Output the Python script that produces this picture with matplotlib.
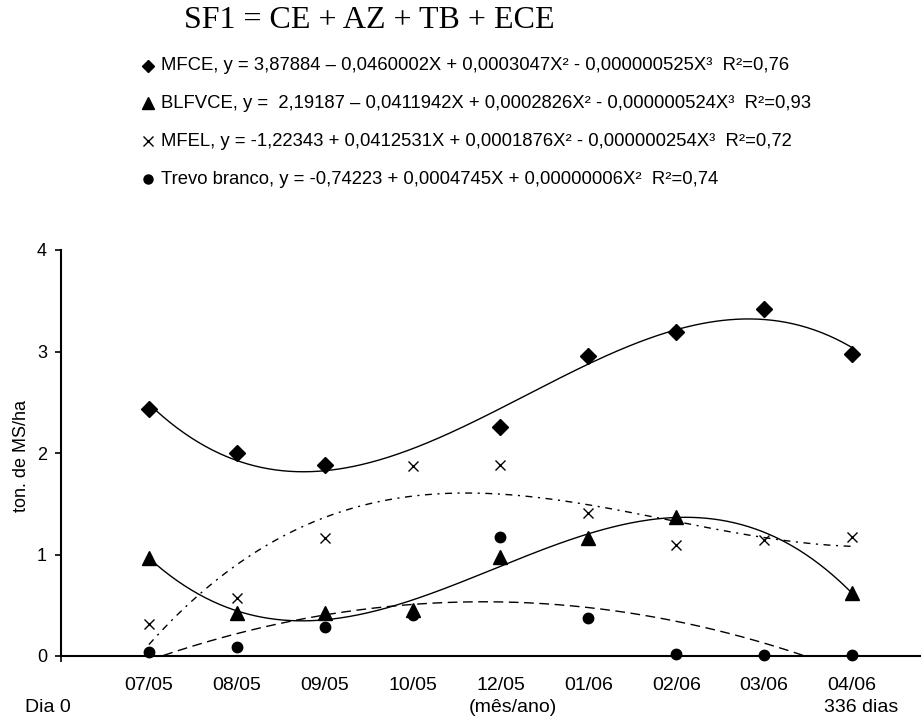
import numpy as np
import matplotlib
matplotlib.use("Agg")
import matplotlib.pyplot as plt
from matplotlib.lines import Line2D

# ---------------- data ----------------
categories = ["07/05", "08/05", "09/05", "10/05", "12/05", "01/06", "02/06", "03/06", "04/06"]
x_pos = np.arange(1, 10)

mfce = [2.43, 2.00, 1.88, None, 2.26, 2.96, 3.19, 3.42, 2.98]
blfvce = [0.97, 0.42, 0.42, 0.45, 0.98, 1.16, 1.37, None, 0.62]
mfel = [0.32, 0.57, 1.16, 1.87, 1.88, 1.41, 1.09, 1.14, 1.17]
trevo = [0.04, 0.09, 0.29, 0.40, 1.17, 0.37, 0.02, 0.01, 0.01]

legend_labels = [
    "MFCE, y = 3,87884 \u2013 0,0460002X + 0,0003047X\u00b2 - 0,000000525X\u00b3  R\u00b2=0,76",
    "BLFVCE, y =  2,19187 \u2013 0,0411942X + 0,0002826X\u00b2 - 0,000000524X\u00b3  R\u00b2=0,93",
    "MFEL, y = -1,22343 + 0,0412531X + 0,0001876X\u00b2 - 0,000000254X\u00b3  R\u00b2=0,72",
    "Trevo branco, y = -0,74223 + 0,0004745X + 0,00000006X\u00b2  R\u00b2=0,74",
]
title = "SF1 = CE + AZ + TB + ECE"

# ---------------- figure ----------------
W, H = 921, 719
fig = plt.figure(figsize=(W / 100, H / 100), dpi=100)
fig.patch.set_facecolor("white")

def fx(px):
    return px / W

def fy(py):
    return 1 - py / H

ax = fig.add_axes([fx(61), fy(656), fx(921) - fx(61), fy(250) - fy(656)])
ax.set_xlim(0, 9.785)
ax.set_ylim(0, 4)

SANS = ["Liberation Sans", "DejaVu Sans"]

series = [
    (mfce, "D", 8.5, 3, "-"),
    (blfvce, "^", 9.5, 3, "-"),
    (mfel, "x", 7, 3, (0, (5, 4, 1.5, 4))),
    (trevo, "o", 7.5, 2, (0, (7, 4))),
]

xs = np.linspace(1, 9, 300)
for vals, mk, ms, deg, ls in series:
    xv = np.array([x for x, v in zip(x_pos, vals) if v is not None], dtype=float)
    yv = np.array([v for v in vals if v is not None], dtype=float)
    ax.plot(xv, yv, linestyle="none", marker=mk, ms=ms, mew=1.0,
            color="black", clip_on=False, zorder=3)
    coef = np.polyfit(xv, yv, deg)
    ax.plot(xs, np.polyval(coef, xs), color="black", lw=1.0, linestyle=ls, zorder=2)

# axes styling
for s in ["top", "right"]:
    ax.spines[s].set_visible(False)
ax.spines["left"].set_linewidth(1.5)
ax.spines["bottom"].set_linewidth(1.5)
ax.set_yticks([0, 1, 2, 3, 4])
ax.set_yticklabels(["0", "1", "2", "3", "4"], fontfamily=SANS, fontsize=13)
ax.tick_params(axis="y", direction="out", length=4, width=1.2, pad=6)
ax.set_xticks(x_pos)
ax.set_xticklabels(categories, fontfamily=SANS, fontsize=14)
ax.tick_params(axis="x", length=0, pad=15)
ax.set_xticks([0], minor=True)
ax.tick_params(axis="x", which="minor", length=4, width=1.2, direction="out")

fig.text(fx(22), fy(456), "ton. de MS/ha", rotation=90, ha="center", va="center",
         fontfamily=SANS, fontsize=13)
fig.text(fx(48), fy(708), "Dia 0", ha="center", va="center", fontfamily=SANS, fontsize=14)
fig.text(fx(513), fy(708), "(m\u00eas/ano)", ha="center", va="center", fontfamily=SANS, fontsize=14)
fig.text(fx(861), fy(708), "336 dias", ha="center", va="center", fontfamily=SANS, fontsize=14)

# title
fig.text(fx(184), fy(21), title, ha="left", va="center",
         fontfamily=["Liberation Serif", "DejaVu Serif"], fontsize=23)

# legend (text lines with markers)
leg_y = [66, 103, 141, 179]
leg_mk = [("D", 6.5), ("^", 8), ("x", 6.5), ("o", 6.5)]
for yy, (mk, ms), lab in zip(leg_y, leg_mk, legend_labels):
    fig.add_artist(Line2D([fx(148)], [fy(yy)], marker=mk, ms=ms, color="black",
                          mew=1.0, linestyle="none", transform=fig.transFigure))
    fig.text(fx(161), fy(yy), lab, ha="left", va="center", fontfamily=SANS, fontsize=13.3)

fig.savefig("out.png", dpi=100, facecolor="white")
